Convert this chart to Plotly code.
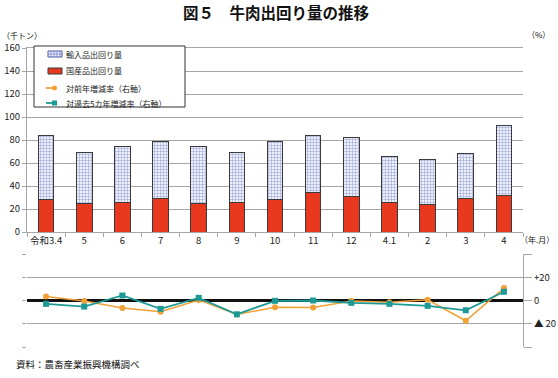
import plotly.graph_objects as go

categories = ["令和3.4", "5", "6", "7", "8", "9", "10", "11", "12", "4.1", "2", "3", "4"]
domestic = [28.4, 25.2, 26.0, 29.3, 25.2, 26.0, 28.4, 34.2, 31.3, 26.0, 23.8, 29.3, 31.6]
imported = [55.9, 44.1, 48.5, 49.5, 49.3, 43.3, 50.4, 49.3, 51.3, 39.5, 39.4, 38.8, 61.4]
yoy = [3.5, -0.5, -6.4, -9.6, 0.5, -12.0, -5.8, -6.0, -0.5, -1.5, 0.6, -17.4, 10.7]
vs5yr = [-2.9, -5.2, 4.3, -7.2, 2.3, -11.9, -0.3, 0.0, -2.0, -2.9, -4.6, -8.4, 7.5]
left_ticks = [0, 20, 40, 60, 80, 100, 120, 140, 160]
right_tickvals = [-40, -20, 0, 20, 40]
right_ticktext = ["", "▲ 20", "0", "+20", ""]
legend_names = ["輸入品出回り量", "国産品出回り量", "対前年増減率（右軸）", "対過去5カ年増減率（右軸）"]

FONT = "Noto Sans CJK JP"
GRID = "#A6A6A6"
ORANGE = "#F0A035"
TEAL = "#1E9A96"
RED = "#E8391E"
PAT_FG = "#5A6CC0"
PAT_BG = "#EEF0FA"

# plot area in pixels
L, R, T, B = 27, 523, 48, 347
W, H = R - L, B - T


def px(x):
    return (x - L) / W


def py(y):
    return (B - y) / H


fig = go.Figure()
fig.add_trace(go.Bar(
    x=categories, y=domestic, name=legend_names[1],
    marker=dict(color=RED, line=dict(color="#3A3A3A", width=1)),
    width=0.41, xaxis="x", yaxis="y"))
fig.add_trace(go.Bar(
    x=categories, y=imported, name=legend_names[0],
    marker=dict(color=PAT_BG, line=dict(color="#3A3A3A", width=1),
                pattern=dict(shape="+", fgcolor=PAT_FG, bgcolor=PAT_BG,
                             size=3, solidity=0.4)),
    width=0.41, xaxis="x", yaxis="y"))
fig.add_trace(go.Scatter(
    x=categories, y=yoy, name=legend_names[2], mode="lines+markers",
    line=dict(color=ORANGE, width=1.5), marker=dict(symbol="circle", size=6, color=ORANGE),
    xaxis="x2", yaxis="y2"))
fig.add_trace(go.Scatter(
    x=categories, y=vs5yr, name=legend_names[3], mode="lines+markers",
    line=dict(color=TEAL, width=1.8), marker=dict(symbol="square", size=6, color=TEAL),
    xaxis="x2", yaxis="y2"))
# invisible trace to activate the left tick axis of the lower panel
fig.add_trace(go.Scatter(x=[categories[0]], y=[0], xaxis="x2", yaxis="y3",
                         mode="markers", marker=dict(opacity=0), showlegend=False,
                         hoverinfo="skip"))

tickfont = dict(size=9.5, family=FONT, color="#222222")
fig.update_layout(
    width=558, height=378,
    margin=dict(l=L, r=558 - R, t=T, b=378 - B, autoexpand=False),
    paper_bgcolor="white", plot_bgcolor="white",
    font=dict(family=FONT, size=9, color="#222222"),
    barmode="stack",
    showlegend=False,
    xaxis=dict(domain=[0, 1], anchor="y", type="category", tickson="boundaries",
               ticks="outside", ticklen=4, tickcolor=GRID, tickangle=0,
               showline=True, linecolor=GRID, mirror=True, automargin=False,
               showgrid=False, tickfont=tickfont, range=[-0.5, 12.5]),
    yaxis=dict(domain=[py(232), 1], anchor="x", range=[0, 160], tickvals=left_ticks,
               showgrid=True, gridcolor=GRID, gridwidth=1, automargin=False,
               ticks="outside", ticklen=4, tickcolor=GRID,
               showline=True, linecolor=GRID, zeroline=False, tickfont=tickfont),
    xaxis2=dict(domain=[0, 1], anchor="y2", type="category", range=[-0.5, 12.5],
                showticklabels=False, ticks="", showgrid=False, automargin=False,
                showline=False),
    yaxis2=dict(domain=[0, py(254)], anchor="x2", side="right", range=[-40, 40],
                tickvals=right_tickvals, ticktext=right_ticktext, automargin=False,
                showgrid=True, gridcolor=GRID, gridwidth=1,
                ticks="outside", ticklen=8, tickcolor=GRID,
                showline=True, linecolor=GRID, zeroline=True,
                zerolinecolor="#111111", zerolinewidth=2.5, tickfont=tickfont),
    yaxis3=dict(domain=[0, py(254)], anchor="x2", overlaying="y2", side="left",
                range=[-40, 40], tickvals=right_tickvals, showticklabels=False,
                ticks="outside", ticklen=4, tickcolor=GRID, showgrid=False,
                showline=False, zeroline=False, automargin=False),
)

# ---- custom legend (box, swatches, labels) ----
shapes = []
shapes.append(dict(type="rect", xref="paper", yref="paper",
                   x0=px(34), x1=px(185), y0=py(107), y1=py(46),
                   line=dict(color="#333333", width=1), fillcolor="white", layer="above"))
ys = [54, 71, 88, 103]
# patterned swatch
shapes.append(dict(type="rect", xref="paper", yref="paper", x0=px(48), x1=px(62),
                   y0=py(ys[0] + 3), y1=py(ys[0] - 3), fillcolor=PAT_BG,
                   line=dict(color="#4858A8", width=1), layer="above"))
for xv in [51, 54, 57, 60]:
    shapes.append(dict(type="line", xref="paper", yref="paper", x0=px(xv), x1=px(xv),
                       y0=py(ys[0] + 3), y1=py(ys[0] - 3),
                       line=dict(color=PAT_FG, width=0.6), layer="above"))
shapes.append(dict(type="line", xref="paper", yref="paper", x0=px(48), x1=px(62),
                   y0=py(ys[0]), y1=py(ys[0]), line=dict(color=PAT_FG, width=0.6),
                   layer="above"))
# red swatch
shapes.append(dict(type="rect", xref="paper", yref="paper", x0=px(48), x1=px(62),
                   y0=py(ys[1] + 3), y1=py(ys[1] - 3), fillcolor=RED,
                   line=dict(color="#3A3A3A", width=1), layer="above"))
# line swatches
for yv, col, sym in [(ys[2], ORANGE, "circle"), (ys[3], TEAL, "rect")]:
    shapes.append(dict(type="line", xref="paper", yref="paper", x0=px(46), x1=px(63),
                       y0=py(yv), y1=py(yv), line=dict(color=col, width=1.8, dash="dash"),
                       layer="above"))
    shapes.append(dict(type="circle" if sym == "circle" else "rect", xref="paper", yref="paper",
                       x0=px(52), x1=px(57), y0=py(yv + 2.5), y1=py(yv - 2.5),
                       fillcolor=col, line=dict(color=col, width=0), layer="above"))
fig.update_layout(shapes=shapes)

for name, yv in zip(legend_names, ys):
    fig.add_annotation(text=name, x=px(64), y=py(yv), xref="paper", yref="paper",
                       xanchor="left", yanchor="middle", showarrow=False,
                       font=dict(size=8, family=FONT, color="#222222"))

texts = [
    dict(text="<b>図５　牛肉出回り量の推移</b>", x=276, y=12, xanchor="center", size=15.5),
    dict(text="（千トン）", x=0, y=35, xanchor="left", size=8),
    dict(text="（%）", x=552, y=34, xanchor="right", size=8),
    dict(text="（年.月）", x=556, y=239, xanchor="right", size=8),
    dict(text="資料：農畜産業振興機構調べ", x=14, y=364, xanchor="left", size=9.5),
]
for a in texts:
    fig.add_annotation(text=a["text"], x=px(a["x"]), y=py(a["y"]),
                       xref="paper", yref="paper", xanchor=a["xanchor"], yanchor="middle",
                       showarrow=False, font=dict(size=a["size"], family=FONT, color="#111111"))

fig.write_html("out.html", config={"displayModeBar": False},
               post_script="document.body.style.margin='0';document.body.style.overflow='hidden';")
